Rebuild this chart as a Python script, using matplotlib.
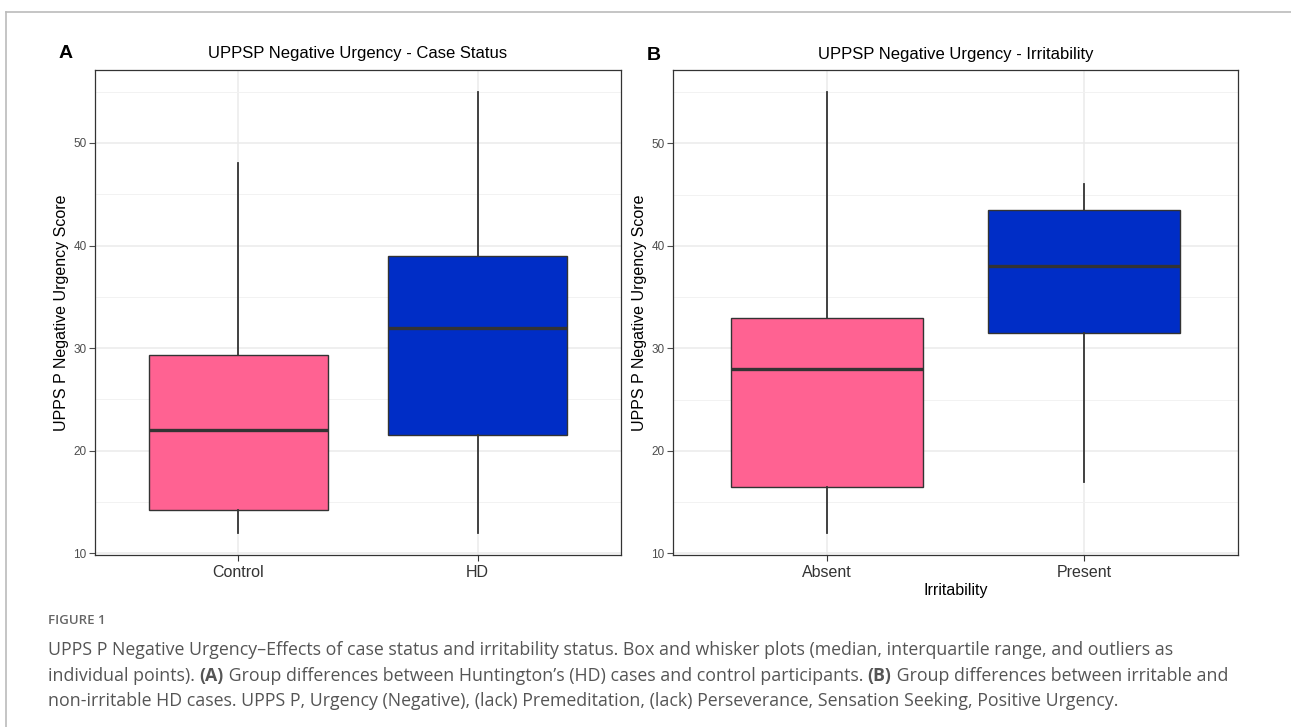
import numpy as np
import matplotlib.pyplot as plt
from matplotlib.lines import Line2D

# box statistics
case_groups = ['Control', 'HD']
case_q1 = [14.2, 21.5]
case_med = [22, 32]
case_q3 = [29.3, 39]
case_lo = [12, 12]
case_hi = [48, 55]

irr_groups = ['Absent', 'Present']
irr_q1 = [16.5, 31.5]
irr_med = [28, 38]
irr_q3 = [33, 43.5]
irr_lo = [12, 17]
irr_hi = [55, 46]

fills = ['#FF6292', '#002DC6']

W, H = 1291, 727
fig = plt.figure(figsize=(W / 100, H / 100), dpi=100)
plt.rcParams['font.family'] = ['Liberation Sans', 'DejaVu Sans']


def box_panel(rect, groups, q1, med, q3, lo, hi, title, xlabel=None):
    x0, y0, x1, y1 = rect
    ax = fig.add_axes([x0 / W, 1 - y1 / H, (x1 - x0) / W, (y1 - y0) / H])
    stats = []
    for i, g in enumerate(groups):
        stats.append({'label': g, 'q1': q1[i], 'med': med[i], 'q3': q3[i],
                      'whislo': lo[i], 'whishi': hi[i], 'fliers': []})
    bp = ax.bxp(stats, positions=[1, 2], widths=0.75, patch_artist=True,
                showcaps=False, showfliers=False,
                boxprops=dict(edgecolor='#333333', linewidth=1.0),
                medianprops=dict(color='#333333', linewidth=2.4),
                whiskerprops=dict(color='#333333', linewidth=1.3))
    for patch, c in zip(bp['boxes'], fills):
        patch.set_facecolor(c)
    ax.set_xlim(0.4, 2.6)
    ax.set_ylim(9.85, 57.15)
    ax.set_yticks([10, 20, 30, 40, 50])
    ax.set_yticks([15, 25, 35, 45, 55], minor=True)
    ax.set_xticks([1, 2])
    ax.set_xticklabels(groups, fontsize=11.5)
    ax.tick_params(axis='y', labelsize=8.5, colors='#4D4D4D', length=4, width=0.8, pad=2)
    ax.tick_params(axis='y', which='minor', length=0)
    ax.tick_params(axis='x', length=4, width=0.8, colors='#333333', pad=3)
    for lab in ax.get_xticklabels():
        lab.set_color('#333333')
    ax.grid(True, which='major', color='#EBEBEB', linewidth=1.1)
    ax.grid(True, which='minor', axis='y', color='#F2F2F2', linewidth=0.7)
    ax.set_axisbelow(True)
    for s in ax.spines.values():
        s.set_color('#333333')
        s.set_linewidth(0.9)
    ax.set_ylabel('UPPS P Negative Urgency Score', fontsize=11.5, labelpad=3)
    ax.set_title(title, fontsize=12, pad=8)
    if xlabel:
        ax.set_xlabel(xlabel, fontsize=11.5, labelpad=2)
    return ax


box_panel((95, 69.5, 621, 555), case_groups, case_q1, case_med, case_q3,
          case_lo, case_hi, 'UPPSP Negative Urgency - Case Status')
box_panel((673, 70, 1238, 555), irr_groups, irr_q1, irr_med, irr_q3,
          irr_lo, irr_hi, 'UPPSP Negative Urgency - Irritability', 'Irritability')

fig.text(59 / W, 1 - 53 / H, 'A', fontsize=14, fontweight='bold', va='center')
fig.text(647 / W, 1 - 56 / H, 'B', fontsize=14, fontweight='bold', va='center')

# outer frame (top and left)
fig.add_artist(Line2D([6 / W, 1], [1 - 12 / H, 1 - 12 / H], color='#BBBBBB', lw=1.2))
fig.add_artist(Line2D([6 / W, 6 / W], [0, 1 - 12 / H], color='#BBBBBB', lw=1.2))

# caption
cap = ['Open Sans', 'DejaVu Sans']
fig.text(48 / W, 1 - 620 / H, 'FIGURE 1', fontsize=9.5, color='#666666',
         fontweight='semibold', family=cap, va='center')

lines = [
    [('UPPS P Negative Urgency\u2013Effects of case status and irritability status. '
      'Box and whisker plots (median, interquartile range, and outliers as', 'normal')],
    [('individual points). ', 'normal'), ('(A)', 'bold'),
     (' Group differences between Huntington\u2019s (HD) cases and control participants. ', 'normal'),
     ('(B)', 'bold'), (' Group differences between irritable and', 'normal')],
    [('non-irritable HD cases. UPPS P, Urgency (Negative), (lack) Premeditation, '
      '(lack) Perseverance, Sensation Seeking, Positive Urgency.', 'normal')],
]
line_y = [650, 676, 701]
renderer = fig.canvas.get_renderer()
for segs, yy in zip(lines, line_y):
    x = 48
    for txt, wt in segs:
        t = fig.text(x / W, 1 - yy / H, txt, fontsize=12.8, color='#555555',
                     fontweight=wt, family=cap, va='center')
        bb = t.get_window_extent(renderer=renderer)
        x += bb.width

fig.savefig('out.png', dpi=100)
